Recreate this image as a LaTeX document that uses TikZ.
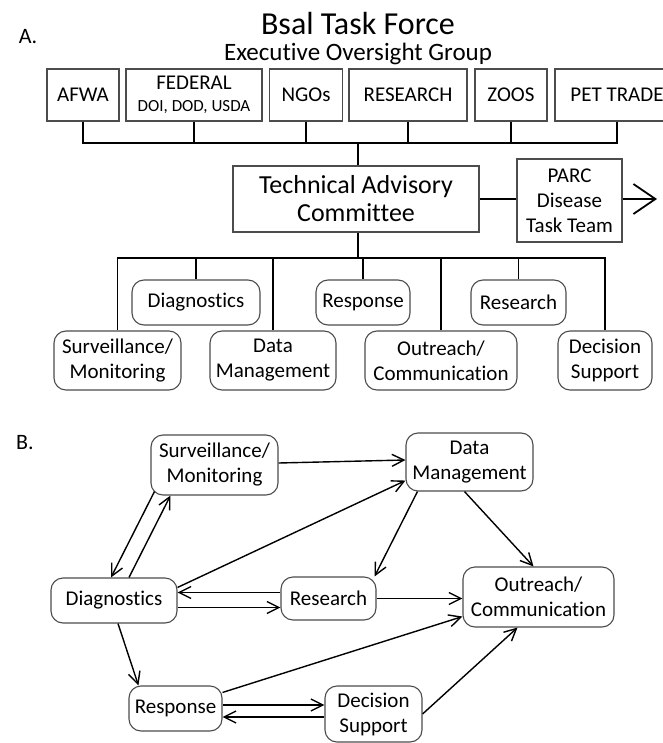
\documentclass[tikz,border=0pt]{standalone}
\usepackage{fontspec}
\setmainfont{Carlito}[Ligatures=NoCommon]
\usetikzlibrary{arrows.meta}
\tikzset{
  sqbox/.style={draw=black!70, line width=1.1pt, align=center, inner sep=0pt,
    font=\fontsize{21}{24}\selectfont},
  rdbox/.style={draw=black!70, line width=1.1pt, rounded corners=12pt, align=center,
    inner sep=0pt, font=\fontsize{21}{25}\selectfont},
  bus/.style={line width=1.8pt},
  flow/.style={line width=1.4pt, -{Straight Barb[length=12pt,width=12pt,line width=1.4pt]}}
}
\newcommand{\SqBox}[3][]{\node[sqbox, #1] (#2) {#3};}
\newcommand{\RdBox}[3][]{\node[rdbox, #1] (#2) {#3};}

\begin{document}
\begin{tikzpicture}[x=1pt, y=-1pt]
\useasboundingbox (0,0) rectangle (662,743);

\begin{scope}
\node[font=\fontsize{22}{24}\selectfont] (labA) at (28,37) {A.};
\node[font=\fontsize{32}{36}\selectfont, inner sep=0pt] (title) at (358,24) {Bsal Task Force};
\node[font=\fontsize{25}{28}\selectfont, inner sep=0pt] (eog) at (358,54) {Executive Oversight Group};

\SqBox[minimum width=72pt, minimum height=52pt, at={(83,95)}]{afwa}{AFWA}
\SqBox[minimum width=136pt, minimum height=52pt, at={(194,95)}]{fed}{FEDERAL\\[-2pt]{\fontsize{17}{20}\selectfont DOI, DOD, USDA}}
\SqBox[minimum width=73pt, minimum height=52pt, at={(306,95)}]{ngo}{NGOs}
\SqBox[minimum width=118pt, minimum height=52pt, at={(408,95)}]{rsa}{RESEARCH}
\SqBox[minimum width=72pt, minimum height=52pt, at={(511,95)}]{zoo}{ZOOS}
\SqBox[minimum width=124pt, minimum height=52pt, at={(617,95)}]{pet}{PET TRADE}

\SqBox[minimum width=246pt, minimum height=66pt, at={(356,199)},
  font=\fontsize{26}{28}\selectfont]{tac}{Technical Advisory\\Committee}
\SqBox[minimum width=105pt, minimum height=83pt, at={(569.5,200.5)},
  font=\fontsize{21}{25}\selectfont]{parc}{PARC\\Disease\\Task Team}
\coordinate (parcout) at (657,199);

\coordinate (busA) at (358,143);
\draw[bus] (afwa.south) |- (busA) -| (pet.south);
\foreach \n in {fed,ngo,rsa,zoo}
  \draw[bus] (\n.south) -- (\n.south |- busA);
\draw[bus] (busA) -- (busA |- tac.north);
\draw[bus] (tac.east) -- (tac.east -| parc.west);
\draw[bus, -{Straight Barb[length=22pt,width=30pt,line width=1.8pt]}] (parc.east |- parcout) -- (parcout);

\RdBox[minimum width=128pt, minimum height=45pt, at={(196,302.5)}]{diag}{Diagnostics}
\RdBox[minimum width=94pt, minimum height=45pt, at={(363,302.5)}]{resp}{Response}
\RdBox[minimum width=95pt, minimum height=45pt, at={(518.5,302.5)}]{rsch}{Research}
\RdBox[minimum width=127pt, minimum height=59pt, at={(117.5,360.5)}]{surv}{Surveillance/\\Monitoring}
\RdBox[minimum width=126pt, minimum height=59pt, at={(273,360.5)}]{dm}{Data\\Management}
\RdBox[minimum width=152pt, minimum height=59pt, at={(441,360.5)}]{out}{Outreach/\\Communication}
\RdBox[minimum width=94pt, minimum height=59pt, at={(605,360.5)}]{dec}{Decision\\Support}

\coordinate (busC) at (358,258);
\draw[bus] (busC |- tac.south) -- (busC);
\draw[bus] (surv.north) |- (busC) -| (dec.north);
\foreach \n in {diag,dm,resp,out,rsch}
  \draw[bus] (\n.north) -- (\n.north |- busC);
\end{scope}

\begin{scope}
\node[font=\fontsize{22}{24}\selectfont] (labB) at (25,443) {B.};

\RdBox[minimum width=127pt, minimum height=60pt, at={(214.5,465)}]{survb}{Surveillance/\\Monitoring}
\RdBox[minimum width=127pt, minimum height=58pt, at={(469.5,462)}]{dmb}{Data\\Management}
\RdBox[minimum width=126pt, minimum height=45pt, at={(114,600.5)}]{diagb}{Diagnostics}
\RdBox[minimum width=95pt, minimum height=43pt, at={(328.5,598.5)}]{rschb}{Research}
\RdBox[minimum width=151pt, minimum height=60pt, at={(538.5,597)}]{outb}{Outreach/\\Communication}
\RdBox[minimum width=93pt, minimum height=45pt, at={(175.5,708.5)}]{respb}{Response}
\RdBox[minimum width=97pt, minimum height=56pt, at={(373.5,714)}]{decb}{Decision\\Support}

\draw[flow] ([yshift=2pt]survb.east) -- ([yshift=2pt]dmb.west);
\draw[flow] ([shift={(4pt,4pt)}]survb.south west) -- ([xshift=-3pt]diagb.north);
\draw[flow] ([xshift=15pt]diagb.north) -- ([xshift=20pt]survb.south west);
\draw[flow] ([yshift=-10pt]diagb.north east) -- ([yshift=11pt]dmb.south west);
\draw[flow] ([xshift=12pt]dmb.south west) -- ([xshift=-2pt]rschb.north east);
\draw[flow] ([xshift=-5pt]dmb.south) -- ([xshift=-5pt]outb.north);
\draw[flow] ([yshift=6pt]rschb.west) -- ([yshift=6pt]rschb.west -| diagb.east);
\draw[flow] ([yshift=-7pt]diagb.east) -- ([yshift=-7pt]diagb.east -| rschb.west);
\draw[flow] (rschb.east) -- (rschb.east -| outb.west);
\draw[flow] ([xshift=4pt]diagb.south) -- ([xshift=10pt]respb.north west);
\draw[flow] ([yshift=-7pt]respb.north east) -- ([yshift=11pt]outb.south west);
\draw[flow] ([yshift=3.5pt]respb.east) -- ([yshift=3.5pt]respb.east -| decb.west);
\draw[flow] ([yshift=-8.5pt]respb.east -| decb.west) -- ([yshift=-8.5pt]respb.east);
\draw[flow] (decb.east) -- ([xshift=-21pt]outb.south);
\end{scope}
\end{tikzpicture}
\end{document}
